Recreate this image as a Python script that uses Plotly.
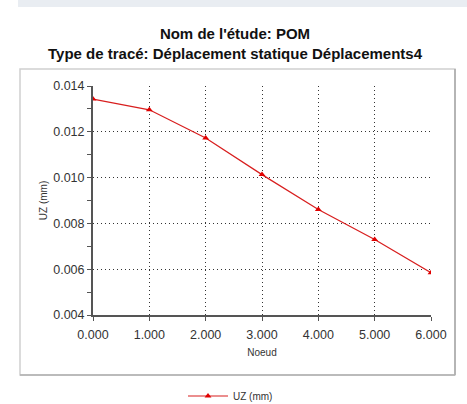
import plotly.graph_objects as go

noeud = [0, 1, 2, 3, 4, 5, 6]
uz = [0.01343, 0.01296, 0.01173, 0.01013, 0.00861, 0.00730, 0.00585]
x_ticks = [0, 1, 2, 3, 4, 5, 6]
x_tick_labels = ["0.000", "1.000", "2.000", "3.000", "4.000", "5.000", "6.000"]
y_ticks = [0.004, 0.006, 0.008, 0.010, 0.012, 0.014]
y_tick_labels = ["0.004", "0.006", "0.008", "0.010", "0.012", "0.014"]

FONT = "Arial, Liberation Sans, sans-serif"
W, H = 467, 404
L, R, T, B = 93, 36, 86, 89
pw, ph = W - L - R, H - T - B

def px(x):
    return (x - L) / pw

def py(y):
    return (H - B - y) / ph

fig = go.Figure()
fig.add_trace(go.Scatter(
    x=noeud, y=uz, mode="lines+markers", name="UZ (mm)",
    line=dict(color="#d81e1e", width=1.2),
    marker=dict(symbol="triangle-up", size=6, color="#e00000"),
))

fig.update_layout(
    width=W, height=H,
    margin=dict(l=L, r=R, t=T, b=B, autoexpand=False),
    paper_bgcolor="white", plot_bgcolor="white",
    font=dict(family=FONT, color="#333333", size=11),
    title=dict(
        text="<b>Nom de l'étude: POM<br>Type de tracé: Déplacement statique Déplacements4</b>",
        x=235 / W, xanchor="center", xref="container",
        y=1 - 39 / H, yanchor="top", yref="container",
        font=dict(family=FONT, size=15, color="#111111"),
    ),
    showlegend=True,
    legend=dict(
        orientation="h", x=px(183), xanchor="left", y=py(396), yanchor="middle",
        font=dict(family=FONT, size=10, color="#333333"),
        bgcolor="rgba(0,0,0,0)", itemwidth=40,
    ),
    xaxis=dict(
        range=[0, 6], tickvals=x_ticks, ticktext=x_tick_labels,
        showline=True, linecolor="#555555", linewidth=2,
        ticks="outside", ticklen=4, tickcolor="#555555",
        ticklabelstandoff=3,
        showgrid=True, gridcolor="#333333", griddash="1px,3px", gridwidth=1,
        zeroline=False, tickfont=dict(size=12.5, color="#333333"),
        title=dict(text="Noeud", font=dict(size=10, color="#333333"), standoff=8),
    ),
    yaxis=dict(
        range=[0.004, 0.014], tickvals=y_ticks, ticktext=y_tick_labels,
        showline=True, linecolor="#555555", linewidth=2,
        ticks="outside", ticklen=4, tickcolor="#555555",
        minor=dict(dtick=0.001, tick0=0.004, ticks="outside", ticklen=4, tickcolor="#555555", showgrid=False),
        showgrid=True, gridcolor="#333333", griddash="1px,3px", gridwidth=1,
        zeroline=False, tickfont=dict(size=12.5, color="#333333"),
        title=dict(text="UZ (mm)", font=dict(size=10, color="#333333"), standoff=4),
    ),
    shapes=[
        dict(type="rect", xref="paper", yref="paper",
             x0=px(18), x1=px(467), y0=py(0), y1=py(7),
             fillcolor="#e9edf2", line=dict(width=0), layer="below"),
        dict(type="rect", xref="paper", yref="paper",
             x0=px(20), x1=px(455), y0=py(375), y1=py(69),
             fillcolor="rgba(0,0,0,0)", line=dict(color="#d0d0d0", width=1.5), layer="below"),
        dict(type="line", xref="paper", yref="paper",
             x0=px(455), x1=px(455), y0=py(375), y1=py(69),
             line=dict(color="#a8a8a8", width=1.5)),
        dict(type="line", xref="paper", yref="paper",
             x0=px(20), x1=px(455), y0=py(375), y1=py(375),
             line=dict(color="#b0b0b0", width=1.5)),
    ],
)

fig.write_html("out.html")
